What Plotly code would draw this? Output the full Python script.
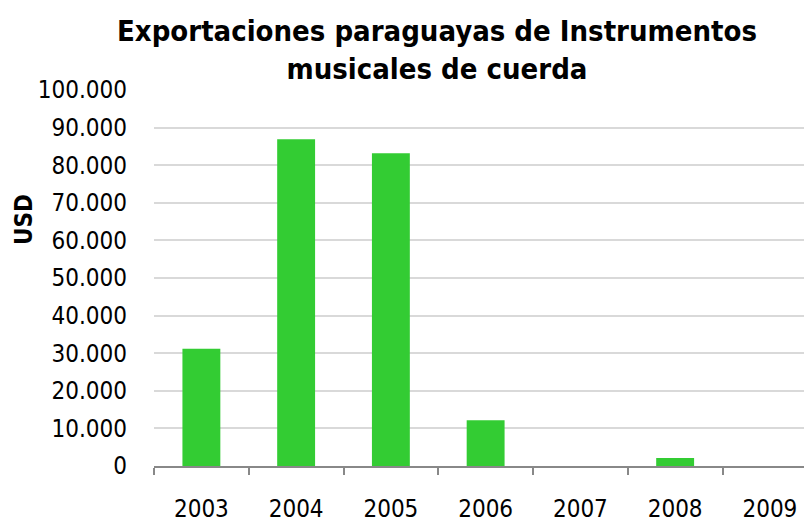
import plotly.graph_objects as go

years = ["2003", "2004", "2005", "2006", "2007", "2008", "2009"]
values_usd = [31200, 86900, 83200, 12200, 0, 2100, 0]
y_ticks = [0, 10000, 20000, 30000, 40000, 50000, 60000, 70000, 80000, 90000, 100000]

W, H = 804, 523
L, R, T, B = 154, 804, 90, 466

fig = go.Figure(go.Bar(
    x=years, y=values_usd,
    marker=dict(color="#33CC33", line=dict(width=0)),
    width=0.4,
))

font_family = "DejaVu Sans Condensed, DejaVu Sans, sans-serif"

fig.update_layout(
    width=W, height=H,
    margin=dict(l=L, r=W - R, t=T, b=H - B, pad=0, autoexpand=False),
    paper_bgcolor="white", plot_bgcolor="white",
    separators=",.",
    showlegend=False,
    font=dict(family=font_family, size=24, color="#000000"),
    title=dict(
        text="<b>Exportaciones paraguayas de Instrumentos<br>musicales de cuerda</b>",
        x=437 / W, xref="container", xanchor="center",
        y=1 - 41 / H, yref="container", yanchor="middle",
        font=dict(family=font_family, size=29, color="#000000"),
    ),
    xaxis=dict(
        type="category",
        range=[-0.5, 6.36],
        showline=True, linecolor="#888888", linewidth=1.5,
        ticks="outside", ticklen=7, tickcolor="#888888", tickwidth=1.5,
        tickson="boundaries",
        showgrid=False,
        ticklabelstandoff=20,
        tickfont=dict(size=24),
    ),
    yaxis=dict(
        range=[0, 100000],
        tickvals=y_ticks,
        tickformat=",.0f",
        showgrid=True, gridcolor="#d9d9d9", gridwidth=1.5,
        zeroline=False, showline=False, ticks="",
        ticklabelstandoff=26,
        tickfont=dict(size=24),
    ),
    annotations=[dict(
        text="<b>USD</b>", textangle=-90,
        xref="paper", yref="paper",
        x=(24 - L) / (R - L), y=(B - 220) / (B - T),
        xanchor="center", yanchor="middle", showarrow=False,
        font=dict(family=font_family, size=24, color="#000000"),
    )],
)

fig.write_html(
    "out.html",
    config={"displayModeBar": False},
    post_script="document.body.style.margin='0';document.body.style.overflow='hidden';",
)
